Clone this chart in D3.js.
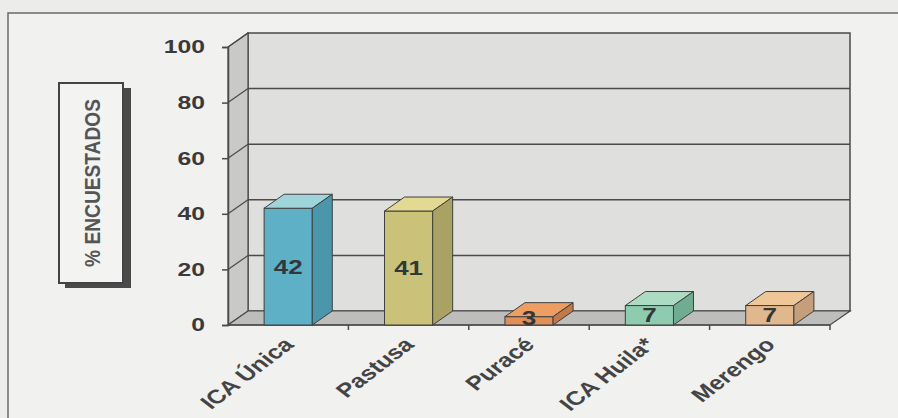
<!DOCTYPE html>
<html><head><meta charset="utf-8">
<script src="https://cdn.jsdelivr.net/npm/d3@7"></script>
<style>html,body{margin:0;padding:0;background:#ececea;}svg{display:block;}</style>
</head><body>
<svg id="c" width="898" height="418"></svg>
<script>
const categories = ["ICA Única", "Pastusa", "Puracé", "ICA Huila*", "Merengo"];
const values = [42, 41, 3, 7, 7];
const yTicks = [0, 20, 40, 60, 80, 100];
const frontColors = ["#5eb0c7", "#cbc27a", "#e08f58", "#8fcbae", "#e1b78d"];
const topColors   = ["#9fd4da", "#e2d992", "#ee9e62", "#acdac2", "#efc696"];
const sideColors  = ["#4a97ab", "#aaa262", "#c27a4a", "#70ad90", "#c69e7c"];
const yTitle = "% ENCUESTADOS";

const svg = d3.select("#c");
const S = 1.3;            // horizontal stretch of the scanned picture
const dx = 20, dy = 14;   // 3D depth offset
const x0 = 228, x1 = 830;
const y = d3.scaleLinear().domain([0, 100]).range([325, 47]);
const xb = d3.scaleBand().domain(categories).range([x0, x1]).paddingInner(0.6).paddingOuter(0.3);
const step = xb.step();
const lineCol = "#4a4a4a";
const font = "Liberation Sans, Arial, sans-serif";

// outer frame
svg.append("rect").attr("x", 8).attr("y", 13).attr("width", 1000).attr("height", 500)
  .attr("fill", "#f1f1ef").attr("stroke", "#6a6a6a").attr("stroke-width", 1.5);

// back wall
svg.append("rect").attr("x", x0 + dx).attr("y", y(100) - dy)
  .attr("width", x1 - x0).attr("height", y(0) - y(100))
  .attr("fill", "#dfdfdd").attr("stroke", lineCol).attr("stroke-width", 1.5);
// side wall
svg.append("polygon").attr("points", [[x0, y(0)], [x0, y(100)], [x0 + dx, y(100) - dy], [x0 + dx, y(0) - dy]].join(" "))
  .attr("fill", "#c9c9c7").attr("stroke", lineCol).attr("stroke-width", 1.2);
// floor
svg.append("polygon").attr("points", [[x0, y(0)], [x1, y(0)], [x1 + dx, y(0) - dy], [x0 + dx, y(0) - dy]].join(" "))
  .attr("fill", "#bdbdbb").attr("stroke", lineCol).attr("stroke-width", 1.2);

// gridlines on back & side walls
yTicks.filter(v => v > 0 && v < 100).forEach(v => {
  svg.append("line").attr("x1", x0 + dx).attr("x2", x1 + dx).attr("y1", y(v) - dy).attr("y2", y(v) - dy)
    .attr("stroke", lineCol).attr("stroke-width", 1.5);
});
yTicks.filter(v => v > 0).forEach(v => {
  svg.append("line").attr("x1", x0).attr("x2", x0 + dx).attr("y1", y(v)).attr("y2", y(v) - dy)
    .attr("stroke", lineCol).attr("stroke-width", 1.2);
});

// y axis
const yAxis = d3.axisLeft(y).tickValues(yTicks).tickSize(6).tickFormat(d => "");
const gy = svg.append("g").attr("transform", `translate(${x0},0)`).call(yAxis);
gy.select(".domain").attr("stroke", lineCol).attr("stroke-width", 1.5);
gy.selectAll(".tick line").attr("stroke", lineCol).attr("stroke-width", 1.5);
svg.selectAll(".ylab").data(yTicks).enter().append("text")
  .attr("transform", d => `translate(205,${y(d)}) scale(${S},1)`)
  .attr("text-anchor", "end").attr("dominant-baseline", "central")
  .attr("font-family", font).attr("font-weight", "bold")
  .attr("font-size", 19).attr("fill", "#3a3a3a").text(d => d);

// x axis front line and ticks
svg.append("line").attr("x1", x0).attr("x2", x1).attr("y1", y(0)).attr("y2", y(0))
  .attr("stroke", lineCol).attr("stroke-width", 1.5);
categories.forEach((c, i) => {
  const tx = x0 + step * (i + 1);
  svg.append("line").attr("x1", tx).attr("x2", tx).attr("y1", y(0)).attr("y2", y(0) + 5)
    .attr("stroke", lineCol).attr("stroke-width", 1.5);
});

// bars
const bw = xb.bandwidth();
const g = svg.append("g").selectAll("g").data(categories).enter().append("g");
g.append("rect").attr("x", d => xb(d)).attr("y", (d, i) => y(values[i]))
  .attr("width", bw).attr("height", (d, i) => y(0) - y(values[i]))
  .attr("fill", (d, i) => frontColors[i]).attr("stroke", "#3f3f3f").attr("stroke-width", 1);
g.append("polygon").attr("points", (d, i) => {
  const bx = xb(d), by = y(values[i]);
  return [[bx, by], [bx + dx, by - dy], [bx + bw + dx, by - dy], [bx + bw, by]].join(" ");
}).attr("fill", (d, i) => topColors[i]).attr("stroke", "#3f3f3f").attr("stroke-width", 1);
g.append("polygon").attr("points", (d, i) => {
  const bx = xb(d) + bw, by = y(values[i]);
  return [[bx, by], [bx + dx, by - dy], [bx + dx, y(0) - dy], [bx, y(0)]].join(" ");
}).attr("fill", (d, i) => sideColors[i]).attr("stroke", "#3f3f3f").attr("stroke-width", 1);
g.append("text")
  .attr("transform", (d, i) => `translate(${xb(d) + bw / 2},${Math.min((y(values[i]) + y(0)) / 2, y(0) - 7)}) scale(${S},1)`)
  .attr("text-anchor", "middle").attr("dominant-baseline", "central")
  .attr("font-family", font).attr("font-weight", "bold")
  .attr("font-size", 20).attr("fill", "#30383a").text((d, i) => values[i]);

// x labels
svg.selectAll(".xlab").data(categories).enter().append("text")
  .attr("transform", d => `translate(${xb(d) + bw / 2 - 6},${y(0) + 11}) scale(${S},1) rotate(-45)`)
  .attr("text-anchor", "end").attr("dominant-baseline", "hanging")
  .attr("font-family", font).attr("font-weight", "bold")
  .attr("font-size", 19.5).attr("fill", "#444").text(d => d);

// y title box
svg.append("rect").attr("x", 65).attr("y", 88).attr("width", 66).attr("height", 200).attr("fill", "#4a4a4a");
svg.append("rect").attr("x", 59).attr("y", 83).attr("width", 64).attr("height", 200)
  .attr("fill", "#f3f3f1").attr("stroke", "#444").attr("stroke-width", 2);
svg.append("text").attr("transform", `translate(92,183) scale(${S},1) rotate(-90)`)
  .attr("text-anchor", "middle").attr("dominant-baseline", "central")
  .attr("font-family", font).attr("font-weight", "bold")
  .attr("font-size", 17).attr("textLength", 168).attr("lengthAdjust", "spacingAndGlyphs")
  .attr("fill", "#555").text(yTitle);
</script>
</body></html>
